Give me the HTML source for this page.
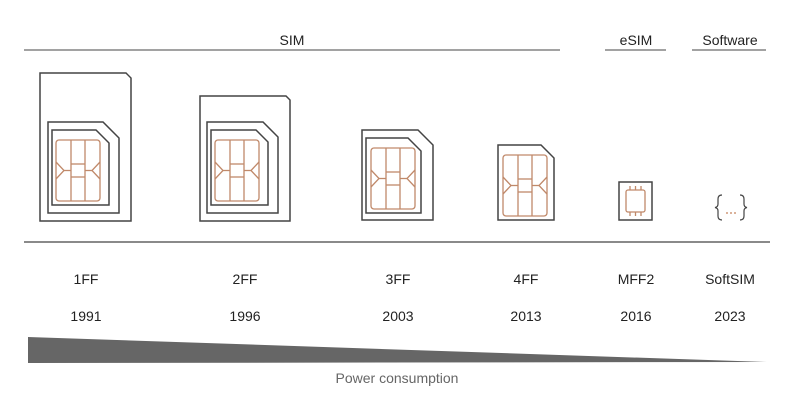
<!DOCTYPE html>
<html><head><style>
html,body{margin:0;padding:0;background:#fff;}
svg{display:block;}
text{font-family:"Liberation Sans",sans-serif;}
</style></head><body>
<svg width="812" height="411" viewBox="0 0 812 411" xmlns="http://www.w3.org/2000/svg">
<defs>
<g id="chip" fill="none" stroke="#c0896a" stroke-width="1.3">
<rect x="0" y="0" width="44" height="61" rx="3"/>
<line x1="15" y1="0" x2="15" y2="61"/><line x1="29" y1="0" x2="29" y2="61"/>
<line x1="15" y1="24" x2="29" y2="24"/><line x1="15" y1="37" x2="29" y2="37"/>
<polyline points="0,22 8,30.5 0,39"/><line x1="8" y1="30.5" x2="15" y2="30.5"/>
<polyline points="44,22 36,30.5 44,39"/><line x1="36" y1="30.5" x2="29" y2="30.5"/>
</g>
</defs>
<g stroke="#444" fill="none" stroke-width="1.5">
<line x1="24" y1="50" x2="560" y2="50" stroke-width="1"/>
<line x1="605" y1="50" x2="666" y2="50" stroke-width="1"/>
<line x1="692" y1="50" x2="766" y2="50" stroke-width="1"/>
<line x1="24" y1="242" x2="770" y2="242" stroke-width="1.2"/>
<path d="M40,73 H126 L131,78 V221 H40 Z"/>
<path d="M48,122 H103 L119,138 V213 H48 Z"/>
<path d="M52,130 H96 L109,143 V205 H52 Z"/>
<path d="M200,96 H286 L290,100 V221 H200 Z"/>
<path d="M207,122 H263 L278,137 V213 H207 Z"/>
<path d="M211,130 H256 L268,142 V205 H211 Z"/>
<path d="M362,130 H418 L433,145 V220 H362 Z"/>
<path d="M366,138 H408 L421,151 V213 H366 Z"/>
<path d="M498,145 H541 L554,158 V220 H498 Z"/>
<rect x="619" y="182" width="33" height="38"/>
</g>
<use href="#chip" x="56" y="140"/>
<use href="#chip" x="215" y="140"/>
<use href="#chip" x="371" y="148"/>
<use href="#chip" x="503" y="155"/>
<g fill="none" stroke="#c0896a" stroke-width="1.3">
<rect x="626" y="190" width="19" height="22" rx="2"/>
<line x1="630" y1="186" x2="630" y2="190"/><line x1="635.5" y1="186" x2="635.5" y2="190"/><line x1="641" y1="186" x2="641" y2="190"/>
<line x1="630" y1="212" x2="630" y2="216"/><line x1="635.5" y1="212" x2="635.5" y2="216"/><line x1="641" y1="212" x2="641" y2="216"/>
</g>
<g fill="none" stroke="#444" stroke-width="1.2">
<path d="M722,195 Q718,195 718,199 V204 Q718,207 715,207.5 Q718,208 718,211 V216 Q718,220 722,220"/>
<path d="M740,195 Q744,195 744,199 V204 Q744,207 747,207.5 Q744,208 744,211 V216 Q744,220 740,220"/>
</g>
<g fill="#d09a7a"><circle cx="727" cy="213" r="1"/><circle cx="731" cy="213" r="1"/><circle cx="735" cy="213" r="1"/></g>
<g font-size="14" fill="#222" text-anchor="middle">
<text x="292" y="45">SIM</text>
<text x="636" y="45">eSIM</text>
<text x="730" y="45">Software</text>
<text x="86" y="284">1FF</text>
<text x="245" y="284">2FF</text>
<text x="398" y="284">3FF</text>
<text x="526" y="284">4FF</text>
<text x="636" y="284">MFF2</text>
<text x="730" y="284">SoftSIM</text>
<text x="86" y="321">1991</text>
<text x="245" y="321">1996</text>
<text x="398" y="321">2003</text>
<text x="526" y="321">2013</text>
<text x="636" y="321">2016</text>
<text x="730" y="321">2023</text>
</g>
<path d="M28,337 L767,362 L28,363 Z" fill="#666"/>
<text x="397" y="383" font-size="14" fill="#666" text-anchor="middle">Power consumption</text>
</svg>
</body></html>
